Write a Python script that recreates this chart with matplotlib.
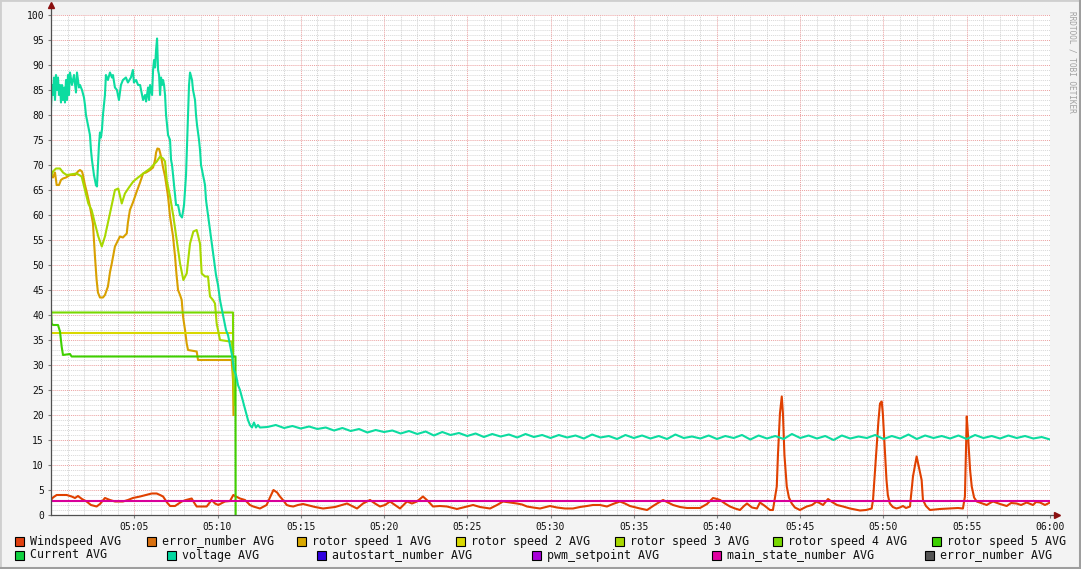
import numpy as np
import matplotlib
matplotlib.use('Agg')
import matplotlib.pyplot as plt
from matplotlib.patches import Rectangle

# time axis: minutes after 05:00
tick_min = [5, 10, 15, 20, 25, 30, 35, 40, 45, 50, 55, 60]
tick_lab = ['05:05', '05:10', '05:15', '05:20', '05:25', '05:30',
            '05:35', '05:40', '05:45', '05:50', '05:55', '06:00']

volt_t = [0.00, 0.06, 0.12, 0.18, 0.24, 0.30, 0.36, 0.42, 0.48, 0.54, 0.60, 0.66,
          0.72, 0.78, 0.84, 0.90, 0.96, 1.02, 1.08, 1.14, 1.26, 1.38, 1.50, 1.56,
          1.68, 1.74, 1.86, 1.98, 2.04, 2.10, 2.22, 2.34, 2.40, 2.46, 2.58, 2.70,
          2.76, 2.82, 2.88, 2.94, 3.00, 3.06, 3.12, 3.24, 3.30, 3.36, 3.42, 3.54,
          3.66, 3.72, 3.84, 3.96, 4.08, 4.20, 4.32, 4.50, 4.62, 4.80, 4.92, 4.98,
          5.11, 5.23, 5.35, 5.47, 5.53, 5.65, 5.71, 5.83, 5.89, 5.95, 6.07, 6.13,
          6.19, 6.25, 6.31, 6.37, 6.43, 6.49, 6.55, 6.61, 6.67, 6.73, 6.79, 6.85,
          6.91, 6.97, 7.03, 7.15, 7.21, 7.27, 7.39, 7.51, 7.63, 7.75, 7.87, 7.99,
          8.11, 8.17, 8.23, 8.29, 8.35, 8.47, 8.53, 8.65, 8.71, 8.77, 8.89, 8.95,
          9.01, 9.13, 9.25, 9.31, 9.43, 9.55, 9.67, 9.79, 9.91, 10.03, 10.15, 10.27,
          10.39, 10.51, 10.63, 10.75, 10.87, 10.93, 10.99, 11.11, 11.23, 11.35, 11.47, 11.59,
          11.71, 11.83, 11.95, 12.07, 12.19, 12.31, 12.43, 12.55,
          13.0, 13.5, 14.0, 14.5, 15.0, 15.5, 16.0, 16.5, 17.0, 17.5, 18.0, 18.5,
          19.0, 19.5, 20.0, 20.5, 21.0, 21.5, 22.0, 22.5, 23.0, 23.5, 24.0, 24.5,
          25.0, 25.5, 26.0, 26.5, 27.0, 27.5, 28.0, 28.5, 29.0, 29.5, 30.0, 30.5,
          31.0, 31.5, 32.0, 32.5, 33.0, 33.5, 34.0, 34.5, 35.0, 35.5, 36.0, 36.5,
          37.0, 37.5, 38.0, 38.5, 39.0, 39.5, 40.0, 40.5, 41.0, 41.5, 42.0, 42.5,
          43.0, 43.5, 44.0, 44.5, 45.0, 45.5, 46.0, 46.5, 47.0, 47.5, 48.0, 48.5,
          49.0, 49.5, 50.0, 50.5, 51.0, 51.5, 52.0, 52.5, 53.0, 53.5, 54.0, 54.5,
          55.0, 55.5, 56.0, 56.5, 57.0, 57.5, 58.0, 58.5, 59.0, 59.5, 60.0]
volt_v = [81.5, 86, 84, 87.5, 83, 88, 85, 87.5, 84, 86, 82.5, 86,
          83, 85.5, 82.5, 87, 83, 88, 84, 88.5, 86, 88, 84.5, 88.5,
          85.5, 86, 85, 83.5, 82, 80, 78, 76, 73, 71, 68, 66,
          65.7, 70, 74, 76.5, 75.5, 77, 80, 84, 88, 87.5, 87, 88.5,
          87.5, 88, 85.5, 85, 83, 86, 87, 87.5, 86.5, 87.5, 89, 86.5,
          87, 86, 86, 84, 83, 84, 82.7, 85.5, 83, 86, 84, 89,
          91, 89.5, 93, 95.3, 89, 88, 84, 87.5, 86, 87, 86, 84,
          80, 78, 76, 75, 71, 70, 66, 62, 62, 60, 59.5, 62,
          68, 74, 80, 86, 88.5, 87, 85, 83, 80, 78, 75, 73,
          70, 68, 66, 63, 60, 57, 54, 51, 48, 46, 43, 41,
          39, 37, 36, 34, 32, 30.5, 29, 28, 26, 25, 23.5, 22,
          20.5, 19, 18, 17.5, 18.5, 17.5, 18, 17.5,
          17.6, 18.0, 17.4, 17.8, 17.3, 17.7, 17.2, 17.5, 16.9, 17.4, 16.8, 17.2,
          16.5, 17.0, 16.6, 16.9, 16.3, 16.8, 16.2, 16.7, 15.9, 16.6, 16.0, 16.4,
          15.8, 16.3, 15.6, 16.2, 15.7, 16.1, 15.5, 16.2, 15.6, 16.0, 15.4, 16.0,
          15.5, 15.9, 15.3, 16.1, 15.5, 15.8, 15.2, 16.0, 15.4, 15.9, 15.3, 15.8,
          15.2, 16.1, 15.4, 15.7, 15.3, 15.9, 15.2, 15.8, 15.4, 16.0, 15.1, 15.9,
          15.3, 15.8, 15.2, 16.2, 15.4, 15.9, 15.3, 15.8, 15.0, 15.9, 15.3, 15.7,
          15.4, 16.0, 15.2, 15.8, 15.3, 16.1, 15.2, 15.9, 15.4, 15.8, 15.3, 15.9,
          15.2, 16.0, 15.4, 15.8, 15.3, 15.9, 15.4, 15.8, 15.3, 15.6, 15.1]

wind_t = [0.00, 0.12, 0.34, 0.94, 1.24, 1.44, 1.62, 1.86, 2.14, 2.40, 2.74, 2.94,
          3.24, 3.54, 3.84, 4.32, 4.62, 4.92, 5.35, 5.71, 6.05, 6.35, 6.55, 6.73,
          6.97, 7.15, 7.45, 7.85, 8.11, 8.45, 8.59, 8.75, 9.35, 9.65, 9.85, 10.05,
          10.27, 10.45, 10.75, 10.95, 11.17, 11.35, 11.65, 11.95, 12.15, 12.55, 12.95, 13.15,
          13.36, 13.58, 13.75, 13.93, 14.16, 14.35, 14.55, 14.83, 15.14, 15.38, 15.86, 16.34,
          17.06, 17.78, 18.08, 18.38, 18.74, 19.16, 19.46, 19.76, 20.06, 20.36, 20.66, 20.96,
          21.38, 21.68, 21.98, 22.34, 22.64, 22.94, 23.36, 23.78, 24.38, 24.86, 25.35, 25.77,
          26.37, 26.79, 27.15, 27.57, 27.99, 28.29, 28.59, 28.95, 29.37, 29.97, 30.39, 30.87,
          31.35, 31.77, 32.19, 32.55, 32.97, 33.39, 33.75, 34.17, 34.47, 34.77, 35.38, 35.80,
          36.16, 36.40, 36.76, 37.06, 37.36, 37.78, 38.20, 38.98, 39.40, 39.76, 40.00, 40.18,
          40.48, 40.78, 41.08, 41.38, 41.62, 41.80, 42.10, 42.40, 42.58, 42.88, 43.18, 43.36,
          43.59, 43.66, 43.78, 43.89, 43.96, 44.05, 44.19, 44.32, 44.49, 44.68, 44.98, 45.39,
          45.71, 45.99, 46.37, 46.67, 46.91, 47.21, 47.57, 47.99, 48.59, 48.95, 49.29, 49.37,
          49.49, 49.59, 49.70, 49.79, 49.89, 49.96, 50.08, 50.18, 50.26, 50.38, 50.56, 50.78,
          50.98, 51.17, 51.35, 51.59, 51.77, 51.99, 52.13, 52.29, 52.37, 52.55, 52.79, 53.39,
          53.99, 54.47, 54.77, 54.89, 55.00, 55.08, 55.20, 55.30, 55.44, 55.60, 55.86, 56.20,
          56.40, 56.58, 57.00, 57.40, 57.66, 58.00, 58.26, 58.60, 58.98, 59.16, 59.40, 59.70,
          60.00]
wind_v = [3.0, 3.5, 4.0, 4.0, 3.7, 3.4, 3.8, 3.2, 2.7, 2.0, 1.7, 2.2,
          3.4, 3.0, 2.7, 2.7, 3.0, 3.4, 3.7, 4.0, 4.3, 4.3, 4.0, 3.7,
          2.5, 1.8, 1.8, 2.7, 3.0, 3.3, 2.5, 1.7, 1.7, 3.0, 2.3, 2.0,
          2.4, 2.7, 2.8, 4.0, 3.6, 3.3, 3.0, 2.0, 1.7, 1.3, 2.0, 3.5,
          5.0, 4.5, 3.7, 3.0, 2.0, 1.8, 1.7, 2.0, 2.2, 2.0, 1.6, 1.3,
          1.6, 2.3, 1.8, 1.3, 2.3, 3.0, 2.3, 1.7, 2.0, 2.7, 2.0, 1.3,
          2.7, 2.3, 2.7, 3.7, 2.8, 1.7, 1.8, 1.7, 1.2, 1.6, 2.0, 1.6,
          1.3, 2.0, 2.7, 2.5, 2.3, 2.1, 1.7, 1.5, 1.3, 1.8, 1.5, 1.3,
          1.3, 1.6, 1.8, 2.0, 2.0, 1.7, 2.2, 2.7, 2.3, 1.8, 1.3, 1.0,
          1.8, 2.3, 3.0, 2.5, 2.0, 1.6, 1.4, 1.4, 2.2, 3.4, 3.2, 3.0,
          2.3, 1.7, 1.3, 1.0, 1.8, 2.3, 1.5, 1.3, 2.5, 1.8, 1.0, 1.0,
          5.7, 12.0, 20.3, 23.7, 20.3, 12.0, 5.7, 3.5, 2.3, 1.5, 1.0, 1.7,
          2.0, 2.7, 2.0, 3.2, 2.6, 2.0, 1.7, 1.3, 0.9, 1.0, 1.3, 3.0,
          9.0, 13.7, 19.0, 22.3, 22.7, 20.3, 13.0, 7.0, 4.0, 2.3, 1.6, 1.3,
          1.5, 1.8, 1.4, 1.7, 7.7, 11.7, 9.5, 7.0, 3.0, 1.8, 1.0, 1.2,
          1.3, 1.4, 1.3, 3.7, 19.7, 15.7, 9.0, 5.7, 3.5, 2.7, 2.4, 2.0,
          2.4, 2.7, 2.2, 1.8, 2.4, 2.3, 2.0, 2.5, 2.0, 2.6, 2.5, 2.0,
          2.5]

rotor1_t = [0.00, 0.12, 0.24, 0.34, 0.48, 0.60, 0.72, 0.90, 1.14, 1.44, 1.62, 1.74,
            1.86, 1.92, 2.04, 2.14, 2.34, 2.52, 2.58, 2.64, 2.74, 2.82, 2.94, 3.12,
            3.24, 3.42, 3.54, 3.65, 3.84, 3.96, 4.14, 4.32, 4.55, 4.62, 4.74, 4.92,
            5.15, 5.35, 5.53, 5.71, 5.95, 6.13, 6.25, 6.31, 6.39, 6.49, 6.55, 6.65,
            6.73, 6.85, 7.03, 7.15, 7.33, 7.45, 7.54, 7.63, 7.75, 7.85, 7.93, 8.05,
            8.15, 8.23, 8.75, 8.83, 10.85, 10.93, 10.96]
rotor1_v = [68.0, 67.5, 68.5, 66.0, 66.0, 67.0, 67.3, 67.5, 68.0, 68.0, 68.7, 69.0,
            68.7, 68.0, 66.0, 64.7, 61.7, 58.3, 55.0, 51.7, 47.0, 44.5, 43.5, 43.5,
            44.0, 45.7, 48.5, 50.3, 53.7, 54.5, 55.7, 55.5, 56.3, 58.5, 61.0, 62.5,
            64.7, 66.5, 68.3, 68.5, 69.0, 69.5, 71.0, 72.5, 73.3, 73.2, 72.5, 71.0,
            69.5, 67.7, 63.7, 59.7, 55.7, 51.7, 48.0, 45.0, 44.0, 43.0, 39.7, 37.0,
            34.3, 33.0, 32.7, 31.0, 31.0, 27.0, 20.0]

rotor2_t = [0.00, 10.93]
rotor2_v = [36.5, 36.5]

rotor3_t = [0.00, 0.12, 0.30, 0.54, 0.72, 0.94, 1.54, 1.84, 2.04, 2.24, 2.44, 2.64,
            2.84, 3.05, 3.24, 3.54, 3.84, 4.04, 4.25, 4.44, 4.68, 4.94, 5.23, 5.54,
            5.95, 6.35, 6.55, 6.73, 6.85, 6.95, 7.15, 7.35, 7.55, 7.75, 7.95, 8.15,
            8.35, 8.55, 8.75, 8.95, 9.05, 9.25, 9.43, 9.55, 9.73, 9.85, 9.95, 10.06,
            10.15, 10.75, 10.87, 10.96, 11.02]
rotor3_v = [67.7, 68.7, 69.3, 69.3, 68.5, 68.0, 68.3, 67.7, 65.0, 62.3, 61.0, 58.3,
            55.7, 53.7, 55.7, 60.3, 65.0, 65.3, 62.3, 64.3, 65.5, 66.7, 67.5, 68.3,
            69.3, 70.7, 71.7, 71.3, 70.7, 67.0, 63.7, 59.7, 55.0, 50.3, 47.0, 48.3,
            54.3, 56.7, 57.0, 54.3, 48.3, 47.7, 47.7, 43.7, 43.0, 42.3, 38.3, 36.5,
            35.0, 34.7, 34.7, 27.0, 22.0]

rotor4_t = [0.00, 10.93, 10.94]
rotor4_v = [40.5, 40.5, 31.5]

rotor5_t = [0.00, 0.04, 0.12, 0.42, 0.54, 0.64, 0.72, 1.14, 1.24, 10.93, 11.08, 11.09]
rotor5_v = [41.0, 38.3, 38.0, 38.0, 36.7, 33.7, 32.0, 32.2, 31.7, 31.7, 31.7, 0.0]

state_t = [0.0, 60.0]
state_v = [2.9, 2.9]

legend_labels = ['Windspeed AVG', 'error_number AVG', 'rotor speed 1 AVG', 'rotor speed 2 AVG',
                 'rotor speed 3 AVG', 'rotor speed 4 AVG', 'rotor speed 5 AVG',
                 'Current AVG', 'voltage AVG', 'autostart_number AVG', 'pwm_setpoint AVG',
                 'main_state_number AVG', 'error_number AVG']
legend_colors = ['#e04010', '#d87010', '#d8a800', '#d8d800', '#a8d800', '#78d800', '#3cd000',
                 '#10d040', '#00d8a0', '#3000e0', '#a800d8', '#e000a0', '#555555']

W, H = 1081, 569
fig = plt.figure(figsize=(W / 100, H / 100), dpi=100, facecolor='#f3f3f3')

# 3D-ish border like rrdtool
fig.add_artist(Rectangle((0, 0), 1, 1, transform=fig.transFigure, fill=False,
                         edgecolor='#cfcfcf', lw=2))
fig.add_artist(plt.Line2D([1 - 1.5 / W, 1 - 1.5 / W], [0, 1], transform=fig.transFigure,
                          color='#9e9e9e', lw=2.2))
fig.add_artist(plt.Line2D([0, 1], [1.5 / H, 1.5 / H], transform=fig.transFigure,
                          color='#9e9e9e', lw=2.2))

x0, x1 = 51, 1050
y0, y1 = 15, 515
ax = fig.add_axes([x0 / W, 1 - y1 / H, (x1 - x0) / W, (y1 - y0) / H])
ax.set_facecolor('white')
ax.set_xlim(0, 60)
ax.set_ylim(0, 100)
for s in ax.spines.values():
    s.set_visible(False)

# grid
for m in range(1, 60):
    if m % 5:
        ax.axvline(m, color='#d0d0d0', lw=0.7, ls=(0, (1, 1)), zorder=0)
for v in range(1, 100):
    if v % 5:
        ax.axhline(v, color='#d8d8d8', lw=0.7, ls=(0, (1, 1)), zorder=0)
for m in range(5, 61, 5):
    ax.axvline(m, color='#eba0a0', lw=0.7, ls=(0, (1, 1)), zorder=0)
for v in range(5, 101, 5):
    ax.axhline(v, color='#eba0a0', lw=0.7, ls=(0, (1, 1)), zorder=0)

lw = 1.5
ax.plot(wind_t, wind_v, color='#e04000', lw=lw, zorder=2)
ax.plot(rotor1_t, rotor1_v, color='#d8a000', lw=lw, zorder=3)
ax.plot(rotor2_t, rotor2_v, color='#d8d800', lw=lw, zorder=3)
ax.plot(rotor3_t, rotor3_v, color='#a8d800', lw=lw, zorder=3)
ax.plot(rotor4_t, rotor4_v, color='#78d800', lw=lw, zorder=3)
ax.plot(rotor5_t, rotor5_v, color='#40d000', lw=lw, zorder=3)
ax.plot(volt_t, volt_v, color='#0cdca0', lw=lw, zorder=4)
ax.plot(state_t, state_v, color='#d8009a', lw=lw, zorder=5)

# axes with arrows
ax.plot([0, 0], [0, 101.5], color='#505050', lw=0.9, clip_on=False, zorder=6)
ax.plot([0, 60.3], [0, 0], color='#505050', lw=0.9, clip_on=False, zorder=6)
ax.plot([0], [102], marker='^', color='#8b1010', ms=5, clip_on=False, zorder=7)
ax.plot([60.45], [0], marker='>', color='#8b1010', ms=5, clip_on=False, zorder=7)

ax.set_xticks(tick_min)
ax.set_xticklabels(tick_lab)
ax.set_yticks(range(0, 101, 5))
ax.tick_params(axis='both', length=2, color='#808080', labelsize=7, pad=3)
for lab in ax.get_xticklabels() + ax.get_yticklabels():
    lab.set_family('DejaVu Sans Mono')
    lab.set_color('#111111')

# legend rows
sw_x = [15, 147, 297, 456, 615, 773, 932, 15, 167, 317, 532, 712, 925]
row_y = [541, 541, 541, 541, 541, 541, 541, 555, 555, 555, 555, 555, 555]
for lab, col, sx, sy in zip(legend_labels, legend_colors, sw_x, row_y):
    fig.add_artist(Rectangle((sx / W, 1 - (sy + 4.5) / H), 9 / W, 9 / H,
                             transform=fig.transFigure, facecolor=col,
                             edgecolor='black', lw=0.8))
    fig.text((sx + 15) / W, 1 - sy / H, lab, family='DejaVu Sans Mono', fontsize=8.4,
             va='center', ha='left', color='#111111')

fig.text(1072 / W, 1 - 62 / H, 'RRDTOOL / TOBI OETIKER', rotation=270,
         family='DejaVu Sans Mono', fontsize=5.6, color='#a0a0a0',
         ha='center', va='center')

fig.savefig('out.png', dpi=100, facecolor=fig.get_facecolor())
